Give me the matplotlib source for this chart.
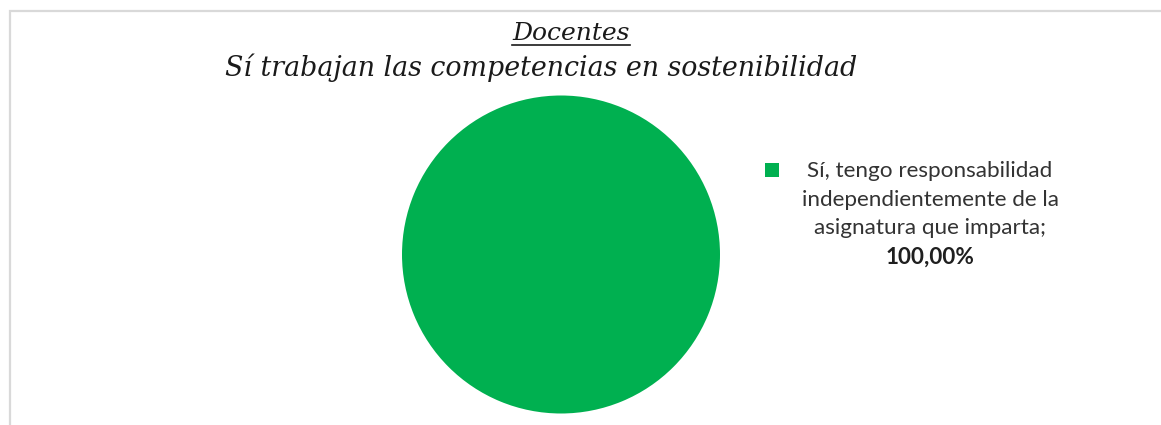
import matplotlib.pyplot as plt
from matplotlib.patches import Rectangle

label_lines = ["Sí, tengo responsabilidad", "independientemente de la", "asignatura que imparta;"]
values = [100.0]
pct_text = ["100,00%"]
colors = ["#00B050"]

W, H = 1161, 425
fig = plt.figure(figsize=(W / 100, H / 100), dpi=100)

# chart frame (light gray, cut off at right and bottom)
fig.patches.append(Rectangle((9.5 / W, -0.1), 1.2, 1.1 - 11 / H, transform=fig.transFigure,
                             fill=False, edgecolor="#d9d9d9", lw=1.6))

# pie: centre ~ (561, 254), radius ~159 px
cx, cy, r = 561, 254.5, 159
ax = fig.add_axes([(cx - r) / W, (H - cy - r) / H, 2 * r / W, 2 * r / H])
ax.pie(values, colors=colors, startangle=90, counterclock=False,
       wedgeprops=dict(linewidth=0))
ax.set_aspect("equal")
ax.set_xlim(-1, 1)
ax.set_ylim(-1, 1)
ax.axis("off")

serif = ["DejaVu Serif"]
t1 = fig.text(571 / W, 1 - 34 / H, "Docentes", ha="center", va="center",
              fontsize=18, style="italic", family=serif, color="#1a1a1a")
fig.text(541 / W, 1 - 68 / H, "Sí trabajan las competencias en sostenibilidad",
         ha="center", va="center", fontsize=19.4, style="italic", family=serif, color="#1a1a1a")
# underline "Docentes"
fig.canvas.draw()
bb = t1.get_window_extent()
fig.add_artist(plt.Line2D([bb.x0 / W, bb.x1 / W], [(bb.y0 + 1) / H, (bb.y0 + 1) / H],
                          transform=fig.transFigure, color="#1a1a1a", lw=1.2))

# legend-like label
fig.patches.append(Rectangle((765 / W, 1 - 177 / H), 14 / W, 14 / H,
                             transform=fig.transFigure, color=colors[0], lw=0))
sans = ["Lato", "DejaVu Sans"]
for i, line in enumerate(label_lines):
    fig.text(930 / W, 1 - (171 + 28.6 * i) / H, line, ha="center", va="center",
             fontsize=16.2, family=sans, color="#333333")
fig.text(930 / W, 1 - 257 / H, pct_text[0], ha="center", va="center",
         fontsize=16.2, family=sans, weight="bold", color="#1f1f1f")

fig.savefig("out.png", dpi=100, facecolor="white")
